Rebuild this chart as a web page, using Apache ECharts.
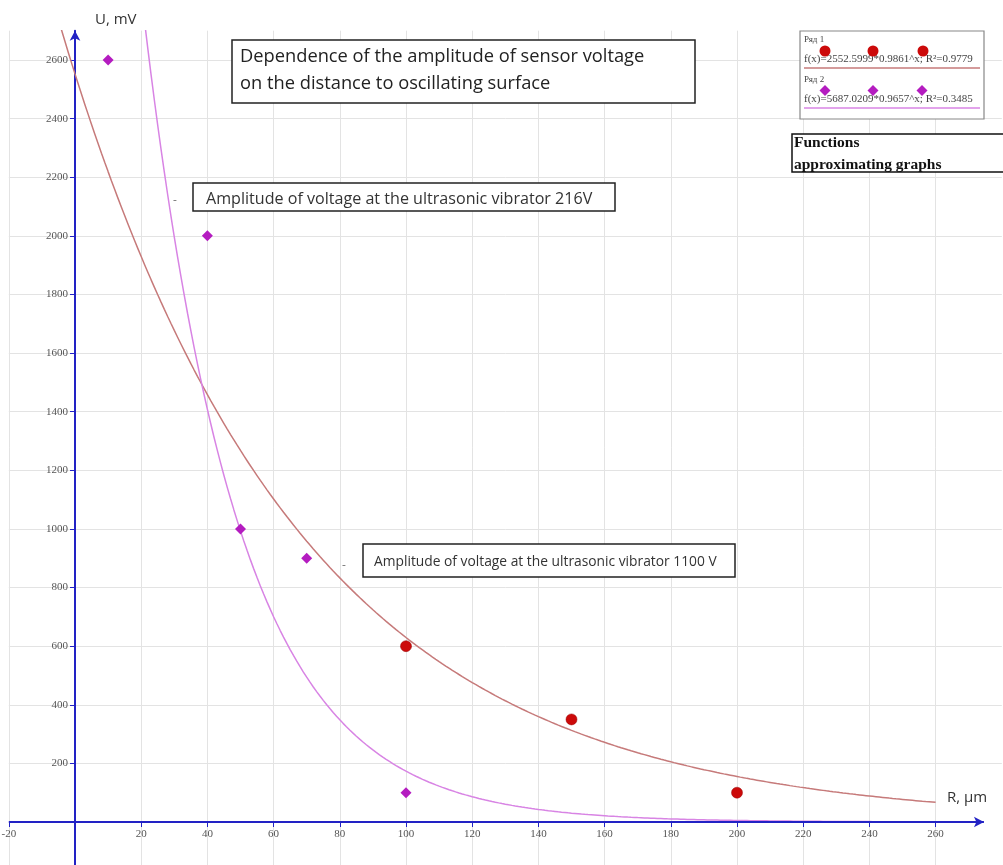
<!DOCTYPE html>
<html>
<head>
<meta charset="utf-8">
<script src="https://cdn.jsdelivr.net/npm/echarts@6/dist/echarts.min.js"></script>
<style>
html,body{margin:0;padding:0;background:#fff;}
#chart{width:1003px;height:865px;}
</style>
</head>
<body>
<div id="chart"></div>
<script>
// ---- data ----
const xTicks = [-20, 20, 40, 60, 80, 100, 120, 140, 160, 180, 200, 220, 240, 260];
const yTicks = [200, 400, 600, 800, 1000, 1200, 1400, 1600, 1800, 2000, 2200, 2400, 2600];
const series1X = [100, 150, 200];
const series1Y = [600, 350, 100];
const series2X = [10, 40, 50, 70, 100];
const series2Y = [2600, 2000, 1000, 900, 100];
// approximating functions f(x)=a*b^x (coefficients as printed in the chart)
const fit1Coef = [2552.5999, 0.9861];
const fit2Coef = [5687.0209, 0.9657];
const fitXRange = [-20, 260];
const legendNames = ['Ряд 1', 'Ряд 2'];
const legendFormulas = ['f(x)=2552.5999*0.9861^x; R²=0.9779', 'f(x)=5687.0209*0.9657^x; R²=0.3485'];

function fitCurve(coef) {
  const pts = [];
  for (let x = fitXRange[0]; x <= fitXRange[1]; x += 1) {
    pts.push([x, coef[0] * Math.pow(coef[1], x)]);
  }
  return pts;
}
const zip = (a, b) => a.map((v, i) => [v, b[i]]);

const BLUE = '#2222c4';
const RED = '#cc0a0a';
const RED_LINE = '#c67a7a';
const PURPLE = '#b41cc0';
const PURPLE_LINE = '#d884e4';
const GRID = '#e3e3e3';
const SERIF = '"Liberation Serif", "DejaVu Serif", serif';
const SANS = '"Open Sans", "Noto Sans", sans-serif';

const chart = echarts.init(document.getElementById('chart'), null, {renderer: 'canvas'});

const GRID_LEFT = 8.8, GRID_BOTTOM = 0;
const option = {
  animation: false,
  backgroundColor: '#fff',
  grid: {left: GRID_LEFT, right: 1.2, top: 30.7, bottom: GRID_BOTTOM, containLabel: false, outerBoundsMode: 'none'},
  xAxis: {
    type: 'value', min: -20, max: 280, position: 'bottom', offset: -43,
    axisLine: {show: false, onZero: false},
    axisTick: {show: true, customValues: xTicks, length: 5, lineStyle: {color: BLUE, width: 1}},
    axisLabel: {customValues: xTicks, margin: 7, color: '#555', fontFamily: SERIF, fontSize: 11, formatter: v => String(v)},
    splitLine: {show: true, lineStyle: {color: GRID, width: 1}}
  },
  yAxis: {
    type: 'value', min: -146.7, max: 2700, position: 'left', offset: -66.2,
    axisLine: {show: true, onZero: false, symbol: ['none', 'arrow'], symbolSize: [8, 10], lineStyle: {color: BLUE, width: 2}},
    axisTick: {show: true, customValues: yTicks, length: 5, lineStyle: {color: BLUE, width: 1}},
    axisLabel: {customValues: yTicks, margin: 7, color: '#555', fontFamily: SERIF, fontSize: 11, formatter: v => String(v)},
    splitLine: {show: true, lineStyle: {color: GRID, width: 1}}
  },
  series: [
    {
      type: 'line', data: fitCurve(fit1Coef), showSymbol: false, symbol: 'none', clip: true,
      lineStyle: {color: RED_LINE, width: 1.5}, z: 3,
      markLine: {
        silent: true, symbol: ['none', 'arrow'], symbolSize: [8, 10],
        lineStyle: {color: BLUE, width: 2, type: 'solid'}, label: {show: false},
        data: [[{coord: [-20, 0]}, {coord: [274.6, 0]}]]
      }
    },
    {
      type: 'line', data: fitCurve(fit2Coef), showSymbol: false, symbol: 'none', clip: true,
      lineStyle: {color: PURPLE_LINE, width: 1.5}, z: 3
    },
    {
      type: 'scatter', data: zip(series1X, series1Y), symbol: 'circle', symbolSize: 11,
      itemStyle: {color: RED, opacity: 1, borderColor: '#990000', borderWidth: 0.5}, z: 5
    },
    {
      type: 'scatter', data: zip(series2X, series2Y), symbol: 'diamond', symbolSize: 11,
      itemStyle: {color: PURPLE, opacity: 1}, z: 5
    }
  ],
  graphic: [
    // axis names
    {type: 'text', left: 95, top: 12, style: {text: 'U, mV', font: '15px ' + SANS, fill: '#333'}},
    {type: 'text', left: 947, top: 790, style: {text: 'R, µm', font: '15px ' + SANS, fill: '#333'}},
    // title box
    {type: 'rect', shape: {x: 232, y: 40, width: 463, height: 63}, style: {fill: '#fff', stroke: '#222', lineWidth: 1.5}, z: 10},
    {type: 'text', x: 240, y: 43, z: 11, style: {text: 'Dependence of the amplitude of sensor voltage\non the distance to oscillating surface', font: '18.3px ' + SANS, lineHeight: 27, fill: '#222'}},
    // annotation 216V
    {type: 'text', x: 173, y: 195, z: 11, style: {text: '-', font: '12px ' + SANS, fill: '#777'}},
    {type: 'rect', shape: {x: 193, y: 183, width: 422, height: 28}, style: {fill: '#fff', stroke: '#222', lineWidth: 1.5}, z: 10},
    {type: 'text', x: 206, y: 199, z: 11, style: {text: 'Amplitude of voltage at the ultrasonic vibrator 216V', font: '16.1px ' + SANS, fill: '#333', verticalAlign: 'middle'}},
    // annotation 1100V
    {type: 'text', x: 342, y: 560, z: 11, style: {text: '-', font: '12px ' + SANS, fill: '#777'}},
    {type: 'rect', shape: {x: 363, y: 544, width: 372, height: 33}, style: {fill: '#fff', stroke: '#222', lineWidth: 1.5}, z: 10},
    {type: 'text', x: 374, y: 562, z: 11, style: {text: 'Amplitude of voltage at the ultrasonic vibrator 1100 V', font: '13.8px ' + SANS, fill: '#333', verticalAlign: 'middle'}},
    // legend box
    {type: 'rect', shape: {x: 800, y: 31, width: 184, height: 88}, style: {fill: '#fff', stroke: '#888', lineWidth: 1.2}, z: 10},
    {type: 'text', x: 804, y: 35, z: 11, style: {text: legendNames[0], font: '9px ' + SERIF, fill: '#444'}},
    {type: 'circle', shape: {cx: 825, cy: 51, r: 5.5}, style: {fill: RED}, z: 12},
    {type: 'circle', shape: {cx: 873, cy: 51, r: 5.5}, style: {fill: RED}, z: 12},
    {type: 'circle', shape: {cx: 923, cy: 51, r: 5.5}, style: {fill: RED}, z: 12},
    {type: 'text', x: 804, y: 54, z: 11, style: {text: legendFormulas[0], font: '11px ' + SERIF, fill: '#444'}},
    {type: 'line', shape: {x1: 804, y1: 68, x2: 980, y2: 68}, style: {stroke: RED_LINE, lineWidth: 1.5}, z: 11},
    {type: 'text', x: 804, y: 75, z: 11, style: {text: legendNames[1], font: '9px ' + SERIF, fill: '#444'}},
    {type: 'polygon', shape: {points: [[825, 85], [830.5, 90.5], [825, 96], [819.5, 90.5]]}, style: {fill: PURPLE}, z: 12},
    {type: 'polygon', shape: {points: [[873, 85], [878.5, 90.5], [873, 96], [867.5, 90.5]]}, style: {fill: PURPLE}, z: 12},
    {type: 'polygon', shape: {points: [[922, 85], [927.5, 90.5], [922, 96], [916.5, 90.5]]}, style: {fill: PURPLE}, z: 12},
    {type: 'text', x: 804, y: 94, z: 11, style: {text: legendFormulas[1], font: '11px ' + SERIF, fill: '#444'}},
    {type: 'line', shape: {x1: 804, y1: 108, x2: 980, y2: 108}, style: {stroke: PURPLE_LINE, lineWidth: 1.5}, z: 11},
    // functions box
    {type: 'rect', shape: {x: 792, y: 134, width: 215, height: 38}, style: {fill: '#fff', stroke: '#111', lineWidth: 1.5}, z: 10},
    {type: 'text', x: 794, y: 132, z: 11, style: {text: 'Functions\napproximating graphs', font: 'bold 15.5px ' + SERIF, lineHeight: 22, fill: '#111'}}
  ]
};
chart.setOption(option);
</script>
</body>
</html>
